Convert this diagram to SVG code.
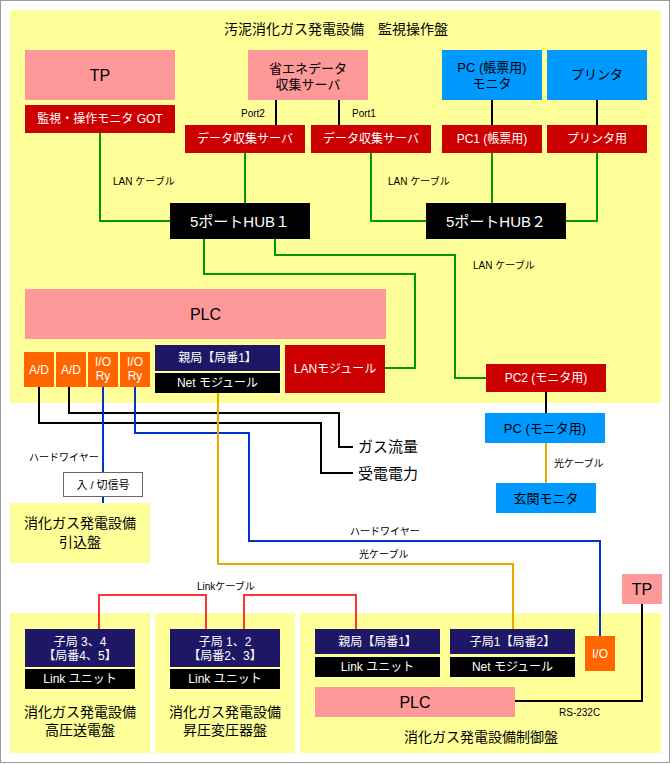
<svg xmlns="http://www.w3.org/2000/svg" width="672" height="764" viewBox="0 0 672 764">
<style>
text{font-family:"Liberation Sans","Noto Sans CJK JP",sans-serif;dominant-baseline:central;text-anchor:middle;fill:#000}
.w{fill:#fff}
.s10{font-size:10px;text-anchor:start}
.s11{font-size:11px}
.s12{font-size:12px}
.s13{font-size:13px}
.s14{font-size:14px}
.s15{font-size:15px}
.s16{font-size:16px}
.panel{fill:#FFFF99}
.pink{fill:#FF9999}
.red{fill:#CC0000}
.blue{fill:#0099FF}
.navy{fill:#1E1766}
.blk{fill:#000}
.org{fill:#FF6600}
.c{fill:none;stroke-width:2}
.g{stroke:#009900}
.k{stroke:#000}
.b{stroke:#0033CC}
.y{stroke:#E8AA00}
.r{stroke:#FF3333}
</style>
<rect x="0.5" y="0.5" width="669" height="762" fill="#fff" stroke="#999"/>
<g id="panel-monitor"><rect class="panel" x="10" y="10" width="651" height="393"/><text class="s14" x="336" y="29">汚泥消化ガス発電設備　監視操作盤</text></g>
<g id="panel-hikikomi"><rect class="panel" x="10" y="503" width="140" height="60"/><text class="s14" x="80" y="523">消化ガス発電設備</text><text class="s14" x="80" y="542">引込盤</text></g>
<g id="panel-kouatsu"><rect class="panel" x="10" y="613" width="140" height="140"/><text class="s14" x="80" y="712">消化ガス発電設備</text><text class="s14" x="80" y="730">高圧送電盤</text></g>
<g id="panel-shouatsu"><rect class="panel" x="155" y="613" width="140" height="140"/><text class="s14" x="225" y="712">消化ガス発電設備</text><text class="s14" x="225" y="730">昇圧変圧器盤</text></g>
<g id="panel-seigyo"><rect class="panel" x="300" y="613" width="361" height="140"/><text class="s14" x="481" y="737">消化ガス発電設備制御盤</text></g>

<g id="connectors">
<path class="c k" d="M276 100V125M339 100V125M492 100V125M597 100V125"/>
<path class="c g" d="M100 133V221H170M245 153V203M371 153V221H426M492 153V203M597 153V221H566"/>
<path class="c g" d="M204 239V274H415V368H385M275 239V255H455V378H486"/>
<path class="c k" d="M546 392V413"/>
<path class="c y" d="M546 443V483"/>
<path class="c k" d="M69 387V413H339V447H353M39 387V423H321V473H353"/>
<path class="c b" d="M103 387V472M103 497V503M135 387V433H249V541H600V636"/>
<path class="c y" d="M218 393V564H513V629"/>
<path class="c r" d="M99 629V595H206V629M244 629V595H356V629"/>
<path class="c k" d="M642 604V701H515"/>
<text class="s10" x="241" y="113">Port2</text>
<text class="s10" x="352" y="113">Port1</text>
<text class="s10" x="113" y="181">LAN ケーブル</text>
<text class="s10" x="388" y="181">LAN ケーブル</text>
<text class="s10" x="473" y="265">LAN ケーブル</text>
<text class="s10" x="554" y="463">光ケーブル</text>
<text class="s10" x="359" y="554">光ケーブル</text>
<text class="s10" x="29" y="457">ハードワイヤー</text>
<text class="s10" x="350" y="531">ハードワイヤー</text>
<text class="s10" x="197" y="586">Linkケーブル</text>
<text class="s10" x="559" y="712">RS-232C</text>
</g>

<g id="tp-top"><rect class="pink" x="25" y="50" width="150" height="50"/><text class="s16" x="100" y="75">TP</text></g>
<g id="got"><rect class="red" x="25" y="105" width="150" height="28"/><text class="s12 w" x="100" y="119">監視・操作モニタ GOT</text></g>
<g id="energy-server"><rect class="pink" x="248" y="50" width="120" height="50"/><text class="s13" x="308" y="68">省エネデータ</text><text class="s13" x="308" y="84">収集サーバ</text></g>
<g id="pc-report-monitor"><rect class="blue" x="442" y="50" width="100" height="50"/><text class="s13" x="492" y="67">PC (帳票用)</text><text class="s13" x="492" y="83">モニタ</text></g>
<g id="printer"><rect class="blue" x="547" y="50" width="100" height="50"/><text class="s13" x="597" y="74">プリンタ</text></g>
<g id="data-server-2"><rect class="red" x="185" y="125" width="120" height="28"/><text class="s12 w" x="245" y="139">データ収集サーバ</text></g>
<g id="data-server-1"><rect class="red" x="311" y="125" width="120" height="28"/><text class="s12 w" x="371" y="139">データ収集サーバ</text></g>
<g id="pc1"><rect class="red" x="442" y="125" width="100" height="28"/><text class="s12 w" x="492" y="139">PC1 (帳票用)</text></g>
<g id="printer-pc"><rect class="red" x="547" y="125" width="100" height="28"/><text class="s12 w" x="597" y="139">プリンタ用</text></g>
<g id="hub1"><rect class="blk" x="170" y="203" width="140" height="36"/><text class="s15 w" x="240" y="221">5ポートHUB１</text></g>
<g id="hub2"><rect class="blk" x="426" y="203" width="140" height="36"/><text class="s15 w" x="496" y="221">5ポートHUB２</text></g>
<g id="plc-top"><rect class="pink" x="25" y="289" width="361" height="50"/><text class="s16" x="205.5" y="314">PLC</text></g>
<g id="ad1"><rect class="org" x="24" y="352" width="30" height="35"/><text class="s12 w" x="39" y="369.5">A/D</text></g>
<g id="ad2"><rect class="org" x="56" y="352" width="30" height="35"/><text class="s12 w" x="71" y="369.5">A/D</text></g>
<g id="iory1"><rect class="org" x="88" y="352" width="30" height="35"/><text class="s12 w" x="103" y="362">I/O</text><text class="s12 w" x="103" y="376">Ry</text></g>
<g id="iory2"><rect class="org" x="120" y="352" width="30" height="35"/><text class="s12 w" x="135" y="362">I/O</text><text class="s12 w" x="135" y="376">Ry</text></g>
<g id="master-net"><rect class="navy" x="155" y="345" width="125" height="26"/><text class="s12 w" x="217.5" y="358">親局【局番1】</text><rect class="blk" x="155" y="373" width="125" height="20"/><text class="s12 w" x="217.5" y="383">Net モジュール</text></g>
<g id="lan-module"><rect class="red" x="285" y="345" width="100" height="48"/><text class="s12 w" x="335" y="369">LANモジュール</text></g>
<g id="pc2"><rect class="red" x="486" y="364" width="120" height="28"/><text class="s12 w" x="546" y="378">PC2 (モニタ用)</text></g>
<g id="pc-monitor"><rect class="blue" x="485" y="413" width="120" height="30"/><text class="s13" x="545" y="428">PC (モニタ用)</text></g>
<g id="entrance-monitor"><rect class="blue" x="496" y="483" width="100" height="30"/><text class="s13" x="546" y="498">玄関モニタ</text></g>
<g id="gas-flow"><text class="s15" x="358" y="446" style="text-anchor:start">ガス流量</text></g>
<g id="power"><text class="s15" x="358" y="473" style="text-anchor:start">受電電力</text></g>
<g id="onoff"><rect x="63.5" y="472.5" width="79" height="24" fill="#fff" stroke="#666"/><text class="s11" x="103" y="484.5">入 / 切信号</text></g>
<g id="slave34"><rect class="navy" x="25" y="629" width="110" height="38"/><text class="s12 w" x="80" y="642">子局 3、4</text><text class="s12 w" x="80" y="656">【局番4、5】</text><rect class="blk" x="25" y="669" width="110" height="20"/><text class="s12 w" x="80" y="679">Link ユニット</text></g>
<g id="slave12"><rect class="navy" x="170" y="629" width="110" height="38"/><text class="s12 w" x="225" y="642">子局 1、2</text><text class="s12 w" x="225" y="656">【局番2、3】</text><rect class="blk" x="170" y="669" width="110" height="20"/><text class="s12 w" x="225" y="679">Link ユニット</text></g>
<g id="master-link"><rect class="navy" x="315" y="629" width="125" height="25"/><text class="s12 w" x="377.5" y="642">親局【局番1】</text><rect class="blk" x="315" y="657" width="125" height="20"/><text class="s12 w" x="377.5" y="667">Link ユニット</text></g>
<g id="slave1-net"><rect class="navy" x="450" y="629" width="125" height="25"/><text class="s12 w" x="512.5" y="642">子局1【局番2】</text><rect class="blk" x="450" y="657" width="125" height="20"/><text class="s12 w" x="512.5" y="667">Net モジュール</text></g>
<g id="io-bottom"><rect class="org" x="585" y="636" width="30" height="35"/><text class="s12 w" x="600" y="653.5">I/O</text></g>
<g id="plc-bottom"><rect class="pink" x="315" y="687" width="200" height="30"/><text class="s16" x="415" y="702">PLC</text></g>
<g id="tp-bottom"><rect class="pink" x="622" y="574" width="40" height="30"/><text class="s16" x="642" y="589">TP</text></g>
</svg>
